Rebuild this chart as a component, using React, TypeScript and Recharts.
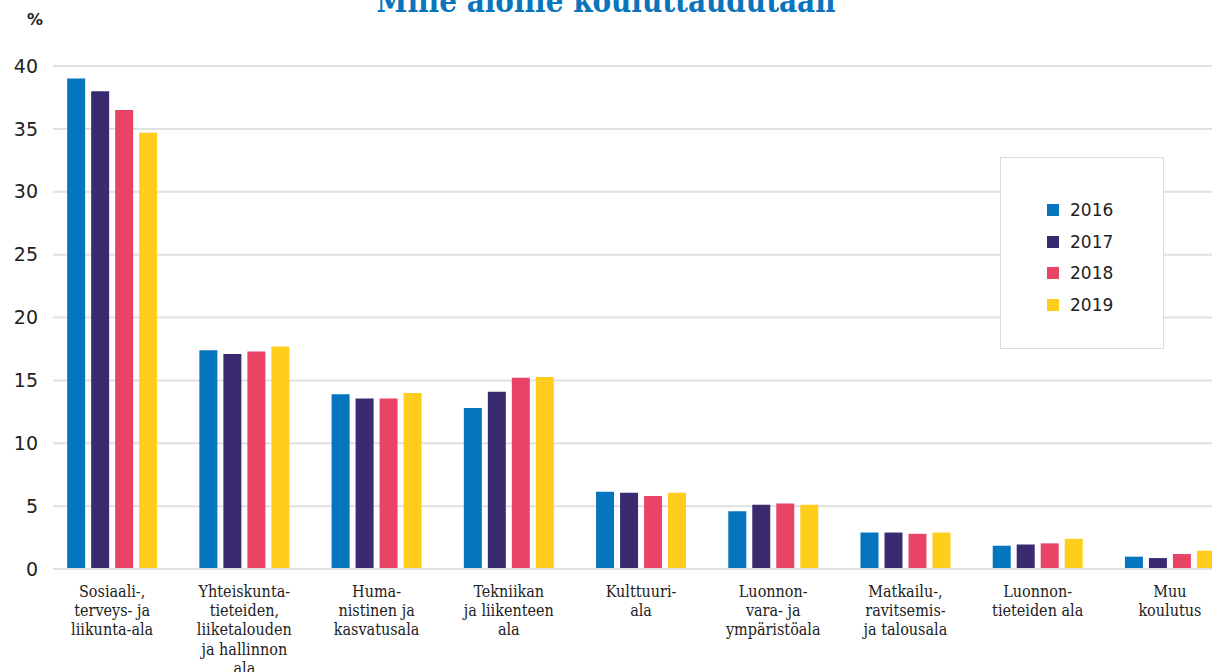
import React from "react";
import { BarChart, Bar, XAxis, YAxis, CartesianGrid } from "recharts";

const categories = [
  "Sosiaali-,\nterveys- ja\nliikunta-ala",
  "Yhteiskunta-\ntieteiden,\nliiketalouden\nja hallinnon\nala",
  "Huma-\nnistinen ja\nkasvatusala",
  "Tekniikan\nja liikenteen\nala",
  "Kulttuuri-\nala",
  "Luonnon-\nvara- ja\nympäristöala",
  "Matkailu-,\nravitsemis-\nja talousala",
  "Luonnon-\ntieteiden ala",
  "Muu\nkoulutus",
];

const s2016 = [39.0, 17.4, 13.9, 12.8, 6.15, 4.6, 2.9, 1.85, 0.98];
const s2017 = [38.0, 17.1, 13.55, 14.1, 6.07, 5.1, 2.9, 1.94, 0.87];
const s2018 = [36.5, 17.3, 13.55, 15.2, 5.8, 5.2, 2.8, 2.04, 1.19];
const s2019 = [34.7, 17.7, 14.0, 15.27, 6.07, 5.1, 2.9, 2.4, 1.46];

const yTicks = [0, 5, 10, 15, 20, 25, 30, 35, 40];

const seriesNames = ["2016", "2017", "2018", "2019"];
const colors = ["#0575bd", "#3a2b70", "#e84566", "#ffcd1c"];

const data = categories.map((c, i) => ({
  name: c,
  "2016": s2016[i],
  "2017": s2017[i],
  "2018": s2018[i],
  "2019": s2019[i],
}));

const CatTick = (props: any) => {
  const { x, y, payload } = props;
  const lines = String(payload.value).split("\n");
  return (
    <g transform={`translate(${x},${y})`}>
      {lines.map((l, i) => (
        <text
          key={i}
          x={0}
          y={15 + i * 19.4}
          textAnchor="middle"
          dominantBaseline="middle"
          fontFamily="'DejaVu Serif Condensed', 'DejaVu Serif', serif"
          fontSize={16}
          fill="#222"
        >
          {l}
        </text>
      ))}
    </g>
  );
};

const LegendBox = () => (
  <div
    style={{
      position: "absolute",
      left: 1000,
      top: 157,
      width: 164,
      height: 192,
      border: "1px solid #dcdcdc",
      background: "#fff",
      boxSizing: "border-box",
      zIndex: 2,
    }}
  >
    {seriesNames.map((n, i) => (
      <div
        key={n}
        style={{
          position: "absolute",
          left: 46,
          top: 43 + i * 31.7,
          display: "flex",
          alignItems: "center",
          height: 18,
        }}
      >
        <div style={{ width: 12, height: 12, background: colors[i] }} />
        <span
          style={{
            marginLeft: 11,
            fontFamily: "'DejaVu Sans', sans-serif",
            fontSize: 17,
            color: "#222",
            lineHeight: "18px",
          }}
        >
          {n}
        </span>
      </div>
    ))}
  </div>
);

export default function App() {
  return (
    <div
      style={{
        position: "absolute",
        left: 0,
        top: 0,
        width: 1212,
        height: 672,
        overflow: "hidden",
        background: "#fff",
      }}
    >
      <div
        style={{
          position: "absolute",
          left: 0,
          width: 1212,
          top: -16,
          textAlign: "center",
          fontFamily: "'DejaVu Serif Condensed', 'DejaVu Serif', serif",
          fontWeight: "bold",
          fontSize: 31,
          color: "#0a75bd",
          lineHeight: "34px",
          zIndex: 2,
        }}
      >
        Mille aloille kouluttaudutaan
      </div>
      <div
        style={{
          position: "absolute",
          left: 27,
          top: 10,
          fontFamily: "'DejaVu Sans', sans-serif",
          fontWeight: "bold",
          fontSize: 16,
          color: "#222",
          zIndex: 2,
        }}
      >
        %
      </div>
      <BarChart
        width={1236}
        height={672}
        data={data}
        margin={{ top: 66, right: 0, left: 0, bottom: 0 }}
        barCategoryGap="16%"
        barGap={6}
      >
        <CartesianGrid vertical={false} stroke="#e1e1e1" strokeWidth={2} />
        <XAxis
          dataKey="name"
          interval={0}
          height={103}
          padding={{ left: -7, right: 0 }}
          tickLine={false}
          axisLine={{ stroke: "#e1e1e1", strokeWidth: 2 }}
          tick={<CatTick />}
        />
        <YAxis
          width={53}
          domain={[0, 40]}
          ticks={yTicks}
          tickLine={false}
          axisLine={false}
          tickSize={0}
          tickMargin={15}
          tick={{
            fontFamily: "'DejaVu Sans', sans-serif",
            fontSize: 19,
            fill: "#222",
          }}
        />
        {seriesNames.map((n, i) => (
          <Bar
            key={n}
            dataKey={n}
            fill={colors[i]}
            isAnimationActive={false}
          />
        ))}
      </BarChart>
      <LegendBox />
    </div>
  );
}
